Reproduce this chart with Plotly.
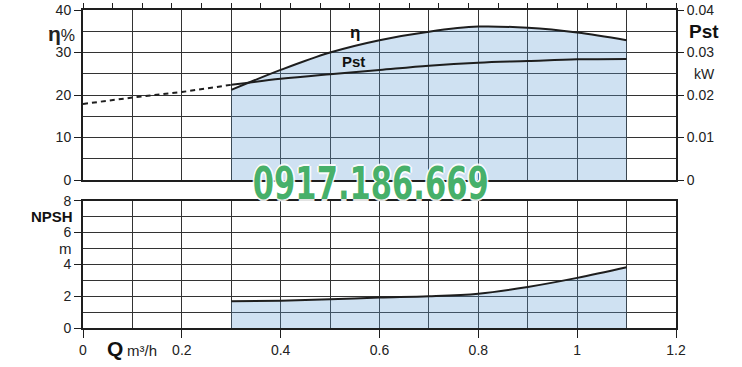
import plotly.graph_objects as go

# ---- data ----
q = [0.3, 0.4, 0.5, 0.6, 0.7, 0.8, 0.9, 1.0, 1.1]          # m3/h
eta = [21.2, 25.9, 30.0, 32.9, 34.9, 36.1, 35.8, 34.7, 32.9]  # %
pst = [0.0224, 0.0238, 0.0249, 0.0259, 0.0269, 0.0276, 0.0280, 0.0284, 0.0285]  # kW
q_ext = [0.0, 0.1, 0.2, 0.3]
pst_ext = [0.0179, 0.0194, 0.0207, 0.0224]
npsh = [1.68, 1.72, 1.80, 1.91, 1.99, 2.16, 2.58, 3.15, 3.82]  # m

FILL = "rgba(95,155,212,0.3)"
LINE = "#1e1e1e"
GRID = "#333333"
FONT = "Liberation Sans, Arial, sans-serif"

fig = go.Figure()
fig.add_trace(go.Scatter(x=q, y=eta, mode="lines", line=dict(color=LINE, width=2, shape="spline"),
                         fill="tozeroy", fillcolor=FILL, xaxis="x", yaxis="y", hoverinfo="skip"))
fig.add_trace(go.Scatter(x=q, y=pst, mode="lines", line=dict(color=LINE, width=2, shape="spline"),
                         xaxis="x", yaxis="y2", hoverinfo="skip"))
fig.add_trace(go.Scatter(x=q_ext, y=pst_ext, mode="lines", line=dict(color=LINE, width=2, dash="5px,4px"),
                         xaxis="x", yaxis="y2", hoverinfo="skip"))
fig.add_trace(go.Scatter(x=q, y=npsh, mode="lines", line=dict(color=LINE, width=2, shape="spline"),
                         fill="tozeroy", fillcolor=FILL, xaxis="x2", yaxis="y3", hoverinfo="skip"))
# invisible trace for the top l/min tick axis
fig.add_trace(go.Scatter(x=[0, 20], y=[0, 0], mode="lines", line=dict(width=0), opacity=0,
                         xaxis="x3", yaxis="y", hoverinfo="skip"))

frame = dict(showline=True, mirror=True, linewidth=2, linecolor=LINE, zeroline=False, automargin=False)
tickfont = dict(family=FONT, size=14, color="#222")

fig.update_layout(
    width=742, height=367,
    margin=dict(l=83, r=66, t=10, b=39, autoexpand=False),
    paper_bgcolor="white", plot_bgcolor="white",
    showlegend=False,
    font=dict(family=FONT, color="#222"),
    xaxis=dict(domain=[0, 1], anchor="y", range=[0, 1.2], dtick=0.1, showticklabels=False,
               showgrid=True, gridcolor=GRID, gridwidth=1.2, ticks="", **frame),
    xaxis3=dict(overlaying="x", anchor="y", side="top", range=[0, 20], dtick=1,
                showticklabels=False, showgrid=False, ticks="outside", ticklen=6,
                tickcolor=LINE, tickwidth=1, showline=False, zeroline=False, automargin=False),
    yaxis=dict(domain=[0.4654, 1], anchor="x", range=[0, 40], dtick=10, ticks="outside",
               ticklen=7, tickcolor=LINE, tickwidth=1.2, tickfont=tickfont,
               showgrid=True, gridcolor=GRID, gridwidth=1.2,
               minor=dict(dtick=5, showgrid=True, gridcolor=GRID, gridwidth=1.2), **frame),
    yaxis2=dict(overlaying="y", anchor="x", side="right", range=[0, 0.04], dtick=0.01,
                ticks="outside", ticklen=7, tickcolor=LINE, tickwidth=1.2, tickfont=tickfont,
                showgrid=False, zeroline=False, showline=False, automargin=False),
    xaxis2=dict(domain=[0, 1], anchor="y3", range=[0, 1.2], dtick=0.2, ticks="outside",
                ticklen=8, tickcolor=LINE, tickwidth=1.2, tickfont=tickfont,
                showgrid=True, gridcolor=GRID, gridwidth=1.2,
                minor=dict(dtick=0.1, showgrid=True, gridcolor=GRID, gridwidth=1.2), **frame),
    yaxis3=dict(domain=[0, 0.4003], anchor="x2", range=[0, 8], dtick=2, ticks="outside",
                ticklen=7, tickcolor=LINE, tickwidth=1.2, tickfont=tickfont,
                showgrid=True, gridcolor=GRID, gridwidth=1.2,
                minor=dict(dtick=1, showgrid=True, gridcolor=GRID, gridwidth=1.2), **frame),
)


def px_x(p):
    return (p - 83) / 593


def px_y(p):
    return (367 - 39 - p) / 318


ann = []
# axis titles
ann.append(dict(text="<b>η</b><span style='font-size:16px'>%</span>", xref="paper", yref="paper",
                x=px_x(61), y=px_y(33), xanchor="center", yanchor="middle",
                showarrow=False, font=dict(family=FONT, size=21, color="#222")))
ann.append(dict(text="<b>Pst</b>", xref="paper", yref="paper", x=px_x(704), y=px_y(32),
                xanchor="center", yanchor="middle", showarrow=False,
                font=dict(family=FONT, size=19, color="#111")))
ann.append(dict(text="kW", xref="paper", yref="paper", x=px_x(704), y=px_y(74),
                xanchor="center", yanchor="middle", showarrow=False,
                font=dict(family=FONT, size=14, color="#222")))
ann.append(dict(text="<b>NPSH</b>", xref="paper", yref="paper", x=px_x(52), y=px_y(216),
                xanchor="center", yanchor="middle", showarrow=False,
                font=dict(family=FONT, size=15, color="#111")))
ann.append(dict(text="m", xref="paper", yref="paper", x=px_x(65), y=px_y(248),
                xanchor="center", yanchor="middle", showarrow=False,
                font=dict(family=FONT, size=15, color="#222")))
ann.append(dict(text="<b>Q</b>", xref="paper", yref="paper", x=px_x(115), y=px_y(348),
                xanchor="center", yanchor="middle", showarrow=False,
                font=dict(family=FONT, size=21, color="#111")))
ann.append(dict(text="m³/h", xref="paper", yref="paper", x=px_x(125), y=px_y(350),
                xanchor="left", yanchor="middle", showarrow=False,
                font=dict(family=FONT, size=15, color="#222")))
# curve labels
ann.append(dict(text="<b>η</b>", xref="x", yref="y", x=0.55, y=34.6, showarrow=False,
                font=dict(family=FONT, size=17, color="#111")))
ann.append(dict(text="<b>Pst</b>", xref="x", yref="y", x=0.548, y=28.0, showarrow=False,
                font=dict(family=FONT, size=15, color="#111")))
# watermark
ann.append(dict(text="<b>0917.186.669</b>",
                xref="paper", yref="paper",
                x=px_x(371), y=px_y(183), xanchor="center", yanchor="middle",
                showarrow=False,
                font=dict(family="DejaVu Sans, sans-serif", size=44,
                          color="rgba(45,165,85,0.88)",
                          shadow="2px 0 0 white, -2px 0 0 white, 0 2px 0 white, 0 -2px 0 white")))
fig.update_layout(annotations=ann)

# horizontally condense the watermark text (the original uses a narrow typeface)
post = """
(function(){
  var t = Array.prototype.filter.call(document.querySelectorAll('.annotation-text'),
      function(e){ return e.textContent.indexOf('0917') >= 0; })[0];
  if (!t) return;
  var bb = t.getBBox();
  var target = 236.0;
  var s = target / bb.width;
  var cx = bb.x + bb.width / 2;
  var prev = t.getAttribute('transform') || '';
  t.setAttribute('transform', prev + ' translate(' + cx + ',0) scale(' + s + ',1) translate(' + (-cx) + ',0)');
})();
"""
fig.write_html("out.html", post_script=post)
